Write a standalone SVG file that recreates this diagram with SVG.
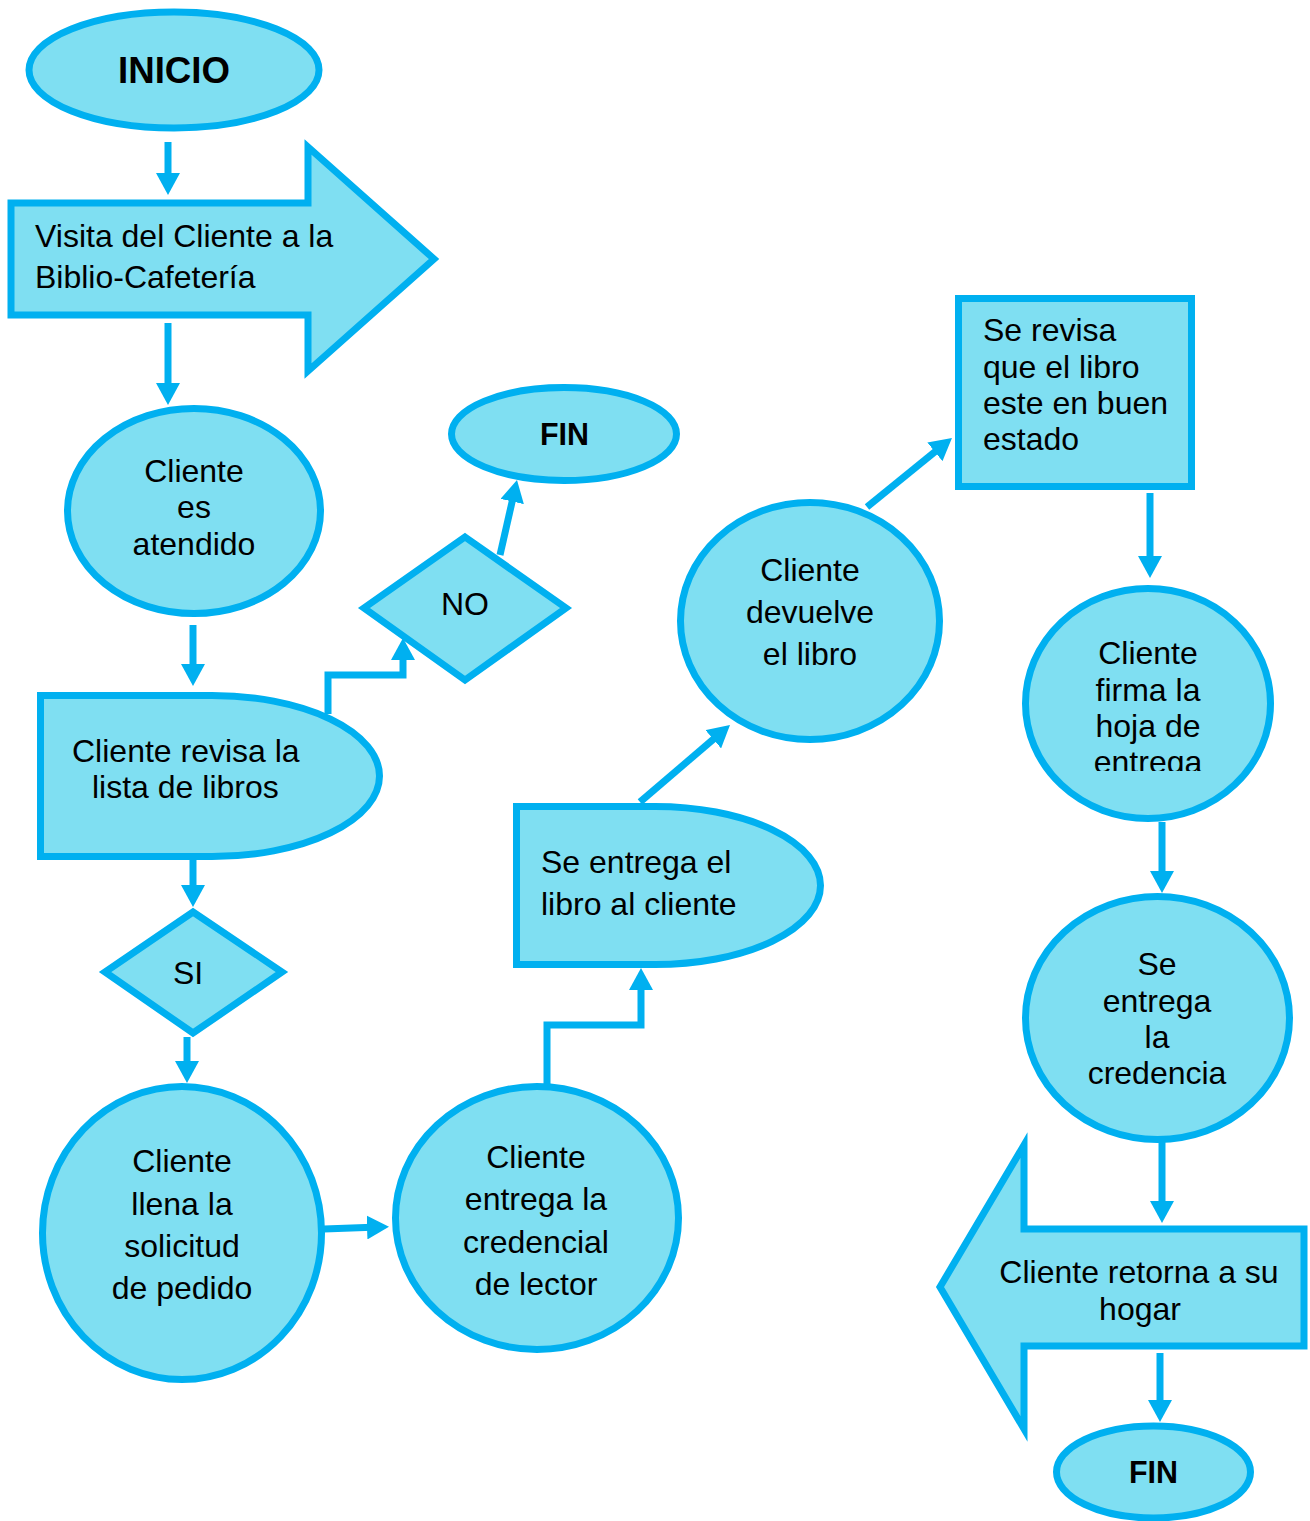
<svg xmlns="http://www.w3.org/2000/svg" width="1310" height="1521" viewBox="0 0 1310 1521">
  <style>
    .shape { fill: #7fdff2; stroke: #00b0f0; stroke-width: 7; }
    .t { font-family: "Liberation Sans", Arial, sans-serif; font-size: 32px; fill: #000; }
    .c { text-anchor: middle; }
    .b { font-family: "Liberation Sans", Arial, sans-serif; font-weight: bold; fill: #000; text-anchor: middle; }
    .conn { fill: none; stroke: #00b0f0; stroke-width: 7; marker-end: url(#ah); }
  </style>
  <defs>
    <marker id="ah" markerUnits="userSpaceOnUse" viewBox="0 0 22 24" refX="12" refY="12" markerWidth="22" markerHeight="24" orient="auto">
      <path d="M0,0 L22,12 L0,24 Z" fill="#00b0f0"/>
    </marker>
    <clipPath id="clipFirma">
      <rect x="1000" y="600" width="300" height="171"/>
    </clipPath>
  </defs>
  <rect width="1310" height="1521" fill="#ffffff"/>

  <g id="connectors">
    <line class="conn" x1="168" y1="142" x2="168" y2="185"/>
    <line class="conn" x1="168" y1="323" x2="168" y2="395"/>
    <line class="conn" x1="193" y1="625" x2="193" y2="676"/>
    <path class="conn" d="M328,714 V675 H403 V648"/>
    <line class="conn" x1="500" y1="555" x2="514.8" y2="489.8"/>
    <line class="conn" x1="193" y1="858" x2="193" y2="897"/>
    <line class="conn" x1="187" y1="1037" x2="187" y2="1073"/>
    <line class="conn" x1="324" y1="1229" x2="379" y2="1227"/>
    <path class="conn" d="M547,1085 V1025 H641 V978"/>
    <line class="conn" x1="640" y1="802" x2="722.4" y2="731.5"/>
    <line class="conn" x1="867" y1="507" x2="944.2" y2="444.3"/>
    <line class="conn" x1="1150" y1="493" x2="1150" y2="568"/>
    <line class="conn" x1="1162" y1="822" x2="1162" y2="883"/>
    <line class="conn" x1="1162" y1="1142" x2="1162" y2="1213"/>
    <line class="conn" x1="1160" y1="1353" x2="1160" y2="1412"/>
  </g>

  <g id="inicio">
    <ellipse class="shape" cx="174" cy="70" rx="145" ry="58"/>
    <text class="b" x="174" y="83" font-size="36" textLength="112" lengthAdjust="spacingAndGlyphs">INICIO</text>
  </g>

  <g id="visita">
    <polygon class="shape" points="11,203 308,203 308,147 434,259 308,371 308,315 11,315"/>
    <text class="t" x="35" y="247">Visita del Cliente a la</text>
    <text class="t" x="35" y="288">Biblio-Cafetería</text>
  </g>

  <g id="atendido">
    <ellipse class="shape" cx="194" cy="511" rx="126.5" ry="102.5"/>
    <text class="t c" x="194" y="482">Cliente</text>
    <text class="t c" x="194" y="518">es</text>
    <text class="t c" x="194" y="555">atendido</text>
  </g>

  <g id="fin1">
    <ellipse class="shape" cx="564" cy="434" rx="112.5" ry="46.5"/>
    <text class="b" x="564.5" y="445" font-size="32" textLength="49" lengthAdjust="spacingAndGlyphs">FIN</text>
  </g>

  <g id="no">
    <polygon class="shape" points="465,537 566,608 465,680 364,608"/>
    <text class="t c" x="465" y="615">NO</text>
  </g>

  <g id="revisa">
    <path class="shape" d="M40.5,695.5 H212 A167.5,80.5 0 0 1 212,856.5 H40.5 Z"/>
    <text class="t" x="72" y="762">Cliente revisa la</text>
    <text class="t" x="92" y="798">lista de libros</text>
  </g>

  <g id="si">
    <polygon class="shape" points="193,912 282,972 193,1033 105,972"/>
    <text class="t c" x="188" y="984">SI</text>
  </g>

  <g id="llena">
    <ellipse class="shape" cx="182" cy="1233" rx="139.5" ry="146.5"/>
    <text class="t c" x="182" y="1172">Cliente</text>
    <text class="t c" x="182" y="1215">llena la</text>
    <text class="t c" x="182" y="1257">solicitud</text>
    <text class="t c" x="182" y="1299">de pedido</text>
  </g>

  <g id="credencial">
    <ellipse class="shape" cx="537" cy="1218" rx="141.5" ry="131.5"/>
    <text class="t c" x="536" y="1168">Cliente</text>
    <text class="t c" x="536" y="1210">entrega la</text>
    <text class="t c" x="536" y="1253">credencial</text>
    <text class="t c" x="536" y="1295">de lector</text>
  </g>

  <g id="entrega-libro">
    <path class="shape" d="M516.5,806.5 H655 A165.5,79 0 0 1 655,964.5 H516.5 Z"/>
    <text class="t" x="541" y="873">Se entrega el</text>
    <text class="t" x="541" y="915">libro al cliente</text>
  </g>

  <g id="devuelve">
    <ellipse class="shape" cx="810" cy="621" rx="129.5" ry="118.5"/>
    <text class="t c" x="810" y="581">Cliente</text>
    <text class="t c" x="810" y="623">devuelve</text>
    <text class="t c" x="810" y="665">el libro</text>
  </g>

  <g id="se-revisa">
    <rect class="shape" x="958.5" y="298.5" width="233" height="188"/>
    <text class="t" x="983" y="341">Se revisa</text>
    <text class="t" x="983" y="378">que el libro</text>
    <text class="t" x="983" y="414">este en buen</text>
    <text class="t" x="983" y="450">estado</text>
  </g>

  <g id="firma">
    <ellipse class="shape" cx="1148" cy="703.5" rx="122.5" ry="115"/>
    <text class="t c" x="1148" y="664">Cliente</text>
    <text class="t c" x="1148" y="701">firma la</text>
    <text class="t c" x="1148" y="737">hoja de</text>
    <text class="t c" x="1148" y="773" clip-path="url(#clipFirma)">entrega</text>
  </g>

  <g id="credencia">
    <ellipse class="shape" cx="1157.5" cy="1018" rx="132" ry="121.5"/>
    <text class="t c" x="1157" y="975">Se</text>
    <text class="t c" x="1157" y="1012">entrega</text>
    <text class="t c" x="1157" y="1048">la</text>
    <text class="t c" x="1157" y="1084">credencia</text>
  </g>

  <g id="retorna">
    <polygon class="shape" points="1304,1229 1024,1229 1024,1145 940,1287 1024,1429 1024,1346 1304,1346"/>
    <text class="t c" x="1139" y="1283">Cliente retorna a su</text>
    <text class="t c" x="1140" y="1320">hogar</text>
  </g>

  <g id="fin2">
    <ellipse class="shape" cx="1153.5" cy="1472" rx="97" ry="46"/>
    <text class="b" x="1153.5" y="1483" font-size="32" textLength="49" lengthAdjust="spacingAndGlyphs">FIN</text>
  </g>
</svg>
